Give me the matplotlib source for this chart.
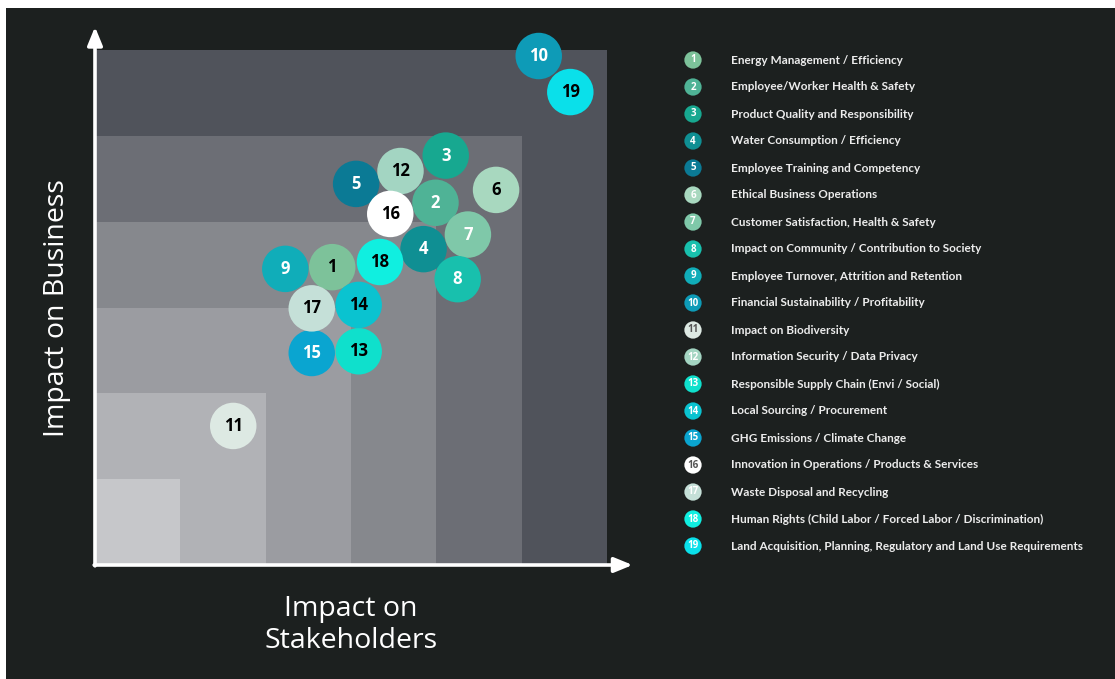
import matplotlib
matplotlib.use("Agg")
import matplotlib.pyplot as plt
from matplotlib.patches import Rectangle

# topic numbers, names and position on the matrix (stakeholders, business)
ids = list(range(1, 20))
names = [
    "Energy Management / Efficiency",
    "Employee/Worker Health & Safety",
    "Product Quality and Responsibility",
    "Water Consumption / Efficiency",
    "Employee Training and Competency",
    "Ethical Business Operations",
    "Customer Satisfaction, Health & Safety",
    "Impact on Community / Contribution to Society",
    "Employee Turnover, Attrition and Retention",
    "Financial Sustainability / Profitability",
    "Impact on Biodiversity",
    "Information Security / Data Privacy",
    "Responsible Supply Chain (Envi / Social)",
    "Local Sourcing / Procurement",
    "GHG Emissions / Climate Change",
    "Innovation in Operations / Products & Services",
    "Waste Disposal and Recycling",
    "Human Rights (Child Labor / Forced Labor / Discrimination)",
    "Land Acquisition, Planning, Regulatory and Land Use Requirements",
]
stakeholders = [2.78, 3.99, 4.11, 3.85, 3.06, 4.70, 4.37, 4.25, 2.23, 5.20,
                1.62, 3.58, 3.09, 3.09, 2.54, 3.46, 2.54, 3.34, 5.57]
business = [3.47, 4.22, 4.77, 3.68, 4.44, 4.37, 3.85, 3.33, 3.45, 5.93,
            1.62, 4.59, 2.49, 3.03, 2.47, 4.09, 2.99, 3.53, 5.51]
colors = ["#7dc29a", "#4fb396", "#17a890", "#0f8f93", "#0b7a95", "#a8d8bf",
          "#7fc8a9", "#18c0ad", "#10adb9", "#0e9bb7", "#dde9e3", "#a3d5c2",
          "#0fe0cc", "#0ac3d0", "#0aa5d0", "#ffffff", "#c5e0d8", "#10efe0",
          "#0ae0ea"]
label_col = ["black", "white", "white", "white", "white", "black", "white",
             "white", "white", "white", "black", "black", "black", "black",
             "white", "black", "black", "black", "black"]

# nested squares, biggest first
band_size = [6, 5, 4, 3, 2, 1]
band_col = ["#50535b", "#6c6e75", "#86888d", "#9b9ca1", "#b1b2b6", "#c6c7ca"]

W, H = 1115, 679
fig = plt.figure(figsize=(W / 100, H / 100), dpi=100)
fig.patch.set_facecolor("white")

# full-figure axes in pixel units for background and legend
bg = fig.add_axes([0, 0, 1, 1])
bg.set_xlim(0, W)
bg.set_ylim(H, 0)
bg.axis("off")
bg.add_patch(Rectangle((6, 8), W - 6, H - 8, facecolor="#1c201f",
                       edgecolor="none"))

ax = fig.add_axes([95 / W, (H - 565) / H, 512 / W, 515 / H])
ax.set_xlim(0, 6)
ax.set_ylim(0, 6)
ax.axis("off")

for sz, c in zip(band_size, band_col):
    ax.add_patch(Rectangle((0, 0), sz, sz, facecolor=c, edgecolor="none"))

ax.scatter(stakeholders, business, s=1120, c=colors, edgecolors="none",
           zorder=3, clip_on=False)
for i, x, y, tc in zip(ids, stakeholders, business, label_col):
    ax.text(x, y, str(i), ha="center", va="center", color=tc, fontsize=12,
            fontweight="bold", family="Open Sans", zorder=4)

# axis arrows
arrow = dict(arrowstyle="-|>,head_width=0.45,head_length=1.1", color="white",
             lw=2.6, shrinkA=0, shrinkB=0)
ax.annotate("", xy=(0, 6.27), xytext=(0, -0.01), arrowprops=arrow,
            annotation_clip=False, zorder=5)
ax.annotate("", xy=(6.3, 0), xytext=(-0.01, 0), arrowprops=arrow,
            annotation_clip=False, zorder=5)

bg.text(57, 308, "Impact on Business", rotation=90, ha="center",
        va="center", color="white", fontsize=20.5, family="Open Sans")
bg.text(351, 625, "Impact on\nStakeholders", ha="center", va="center",
        color="white", fontsize=20.5, family="Open Sans", linespacing=1.15)

# legend
leg_y = [60 + 27 * k for k in range(len(ids))]
bg.scatter([693] * len(ids), leg_y, s=155, c=colors, edgecolors="none",
           zorder=3)
for i, n, c, yy in zip(ids, names, colors, leg_y):
    num_c = "#555555" if c in ("#ffffff", "#dde9e3") else "white"
    bg.text(693, yy, str(i), ha="center", va="center", color=num_c,
            fontsize=7, fontweight="bold", family="Open Sans", zorder=4)
    bg.text(731, yy, n, ha="left", va="center", color="#ececec",
            fontsize=8.5, family="Lato", fontweight="bold")

fig.savefig("out.png", dpi=100, facecolor=fig.get_facecolor())
